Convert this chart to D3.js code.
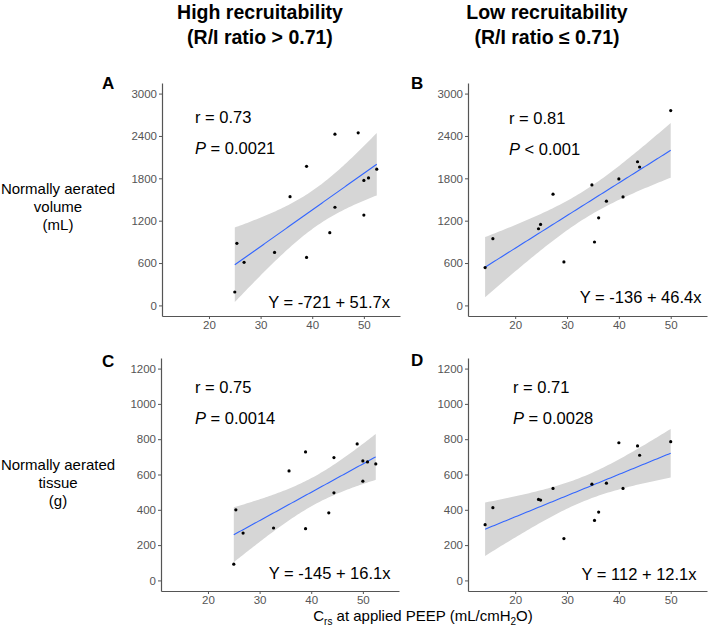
<!DOCTYPE html>
<html>
<head>
<meta charset="UTF-8">
<title></title>
<style>
  body { margin: 0; background: #fff; }
  text { font-family: Arial, "Liberation Sans", sans-serif; }
</style>
</head>
<body>
<script src="https://d3js.org/d3.v7.min.js"></script>
<script>
// values
var colTitles = ["High recruitability", "Low recruitability"];
var colSubtitles = ["(R/I ratio > 0.71)", "(R/I ratio \u2264 0.71)"];
var rowLabels = [["Normally aerated", "volume", "(mL)"], ["Normally aerated", "tissue", "(g)"]];

var highCrs = [25.0, 25.4, 26.8, 32.7, 35.7, 38.9, 38.9, 43.4, 44.4, 44.4, 48.9, 50.0, 50.0, 50.9, 52.5];
var highVolume = [190, 880, 610, 750, 1540, 1970, 680, 1030, 2425, 1390, 2445, 1770, 1280, 1805, 1930];
var highTissue = [92, 400, 268, 297, 620, 728, 293, 383, 696, 496, 773, 677, 562, 671, 660];

var lowCrs = [14.2, 15.7, 24.5, 24.9, 27.3, 29.4, 34.8, 35.3, 36.1, 37.6, 40.0, 40.8, 43.6, 44.0, 50.0];
var lowVolume = [536, 945, 1086, 1147, 1575, 616, 1707, 898, 1241, 1476, 1791, 1537, 2035, 1960, 2760];
var lowTissue = [316, 412, 459, 455, 521, 237, 545, 340, 387, 551, 780, 521, 762, 709, 786];

var xTicks = [20, 30, 40, 50];
var volumeTicks = [0, 600, 1200, 1800, 2400, 3000];
var tissueTicks = [0, 200, 400, 600, 800, 1000, 1200];

var stats = [
  ["r = 0.73", "=", "0.0021", "Y = -721 + 51.7x"],
  ["r = 0.81", "<", "0.001", "Y = -136 + 46.4x"],
  ["r = 0.75", "=", "0.0014", "Y = -145 + 16.1x"],
  ["r = 0.71", "=", "0.0028", "Y = 112 + 12.1x"]
];

var width = 708, height = 628;
var svg = d3.select("body").append("svg")
  .attr("width", width)
  .attr("height", height);

var tCrit = 2.160; // t(0.975, 13 df)

// layout of the four panels
var panels = [
  {letter: "A", x: highCrs, y: highVolume, yTicks: volumeTicks, yDom: [-150, 3150], box: [162, 400, 83, 316],
   lx: 102, ly: 89, rx: 33, ry: 40, py: 71, ex: 390, ey: 307.5, s: stats[0]},
  {letter: "B", x: lowCrs, y: lowVolume, yTicks: volumeTicks, yDom: [-150, 3150], box: [468, 707, 83, 316],
   lx: 411, ly: 89, rx: 41, ry: 41, py: 72, ex: 701.5, ey: 302.5, s: stats[1]},
  {letter: "C", x: highCrs, y: highTissue, yTicks: tissueTicks, yDom: [-60, 1260], box: [161, 399, 358, 591],
   lx: 102, ly: 367, rx: 34, ry: 35, py: 66, ex: 390.5, ey: 579, s: stats[2]},
  {letter: "D", x: lowCrs, y: lowTissue, yTicks: tissueTicks, yDom: [-60, 1260], box: [468, 707, 358, 591],
   lx: 411, ly: 366, rx: 45, ry: 35, py: 66, ex: 696.5, ey: 580, s: stats[3]}
];

panels.forEach(function(p) {
  var x = d3.scaleLinear().domain([10.9, 57]).range([p.box[0], p.box[1]]);
  var y = d3.scaleLinear().domain(p.yDom).range([p.box[3], p.box[2]]);
  var g = svg.append("g");

  // least squares fit + 95% confidence band (like geom_smooth(method = "lm"))
  var n = p.x.length;
  var mx = d3.mean(p.x), my = d3.mean(p.y);
  var sxx = d3.sum(p.x, function(v) { return (v - mx) * (v - mx); });
  var sxy = d3.sum(p.x, function(v, i) { return (v - mx) * (p.y[i] - my); });
  var b = sxy / sxx, a = my - b * mx;
  var sse = d3.sum(p.x, function(v, i) { var r = p.y[i] - (a + b * v); return r * r; });
  var se = Math.sqrt(sse / (n - 2));
  var x0 = d3.min(p.x), x1 = d3.max(p.x);
  var grid = d3.range(0, 81).map(function(k) { return x0 + (x1 - x0) * k / 80; });
  var band = grid.map(function(v) {
    var fit = a + b * v;
    var h = tCrit * se * Math.sqrt(1 / n + (v - mx) * (v - mx) / sxx);
    return {x: v, lo: fit - h, hi: fit + h, fit: fit};
  });

  g.append("path")
    .datum(band)
    .attr("fill", "#d6d6d6")
    .attr("d", d3.area()
      .x(function(d) { return x(d.x); })
      .y0(function(d) { return y(d.lo); })
      .y1(function(d) { return y(d.hi); }));

  g.append("path")
    .datum(band)
    .attr("fill", "none")
    .attr("stroke", "#3366ff")
    .attr("stroke-width", 1.1)
    .attr("d", d3.line()
      .x(function(d) { return x(d.x); })
      .y(function(d) { return y(d.fit); }));

  g.selectAll(".pt")
    .data(p.x)
    .enter()
    .append("circle")
    .attr("cx", function(d) { return x(d); })
    .attr("cy", function(d, i) { return y(p.y[i]); })
    .attr("r", 1.6)
    .attr("fill", "#000");

  // axes
  var ax = g.append("g")
    .attr("transform", "translate(0," + p.box[3] + ")")
    .call(d3.axisBottom(x).tickValues(xTicks).tickFormat(d3.format("d"))
      .tickSize(3).tickPadding(2).tickSizeOuter(0));
  var ay = g.append("g")
    .attr("transform", "translate(" + p.box[0] + ",0)")
    .call(d3.axisLeft(y).tickValues(p.yTicks).tickFormat(d3.format("d"))
      .tickSize(3).tickPadding(2).tickSizeOuter(0));
  [ax, ay].forEach(function(s) {
    s.select(".domain").attr("stroke", "#555").attr("stroke-width", 1.2);
    s.selectAll(".tick line").attr("stroke", "#555");
    s.selectAll(".tick text").attr("fill", "#555").attr("font-size", 11.5)
      .attr("font-family", "Arial, 'Liberation Sans', sans-serif");
  });

  // panel letter and annotations
  svg.append("text")
    .attr("x", p.lx).attr("y", p.ly)
    .attr("font-size", 17).attr("font-weight", "bold")
    .text(p.letter);

  svg.append("text")
    .attr("x", p.box[0] + p.rx).attr("y", p.box[2] + p.ry)
    .attr("font-size", 16.5)
    .text(p.s[0]);

  var pt = svg.append("text")
    .attr("x", p.box[0] + p.rx).attr("y", p.box[2] + p.py)
    .attr("font-size", 16.5);
  pt.append("tspan").attr("font-style", "italic").text("P");
  pt.append("tspan").text(" " + p.s[1] + " " + p.s[2]);

  svg.append("text")
    .attr("x", p.ex).attr("y", p.ey)
    .attr("text-anchor", "end")
    .attr("font-size", 16.5)
    .text(p.s[3]);
});

// column titles
var colCenters = [260, 547];
colTitles.forEach(function(t, i) {
  svg.append("text")
    .attr("x", colCenters[i]).attr("y", 18.5)
    .attr("text-anchor", "middle")
    .attr("font-size", 19.5).attr("font-weight", "bold")
    .text(t);
  svg.append("text")
    .attr("x", colCenters[i]).attr("y", 43.5)
    .attr("text-anchor", "middle")
    .attr("font-size", 19.5).attr("font-weight", "bold")
    .text(colSubtitles[i]);
});

// row labels
var rowBase = [194, 470];
rowLabels.forEach(function(lines, i) {
  lines.forEach(function(l, j) {
    svg.append("text")
      .attr("x", 58).attr("y", rowBase[i] + j * 18)
      .attr("text-anchor", "middle")
      .attr("font-size", 15)
      .text(l);
  });
});

// x axis title
var xt = svg.append("text")
  .attr("x", 423).attr("y", 621)
  .attr("text-anchor", "middle")
  .attr("font-size", 15);
xt.append("tspan").text("C");
xt.append("tspan").attr("font-size", 10).attr("dy", 4).text("rs");
xt.append("tspan").attr("dy", -4).text(" at applied PEEP (mL/cmH");
xt.append("tspan").attr("font-size", 10).attr("dy", 4).text("2");
xt.append("tspan").attr("dy", -4).text("O)");
</script>
</body>
</html>
